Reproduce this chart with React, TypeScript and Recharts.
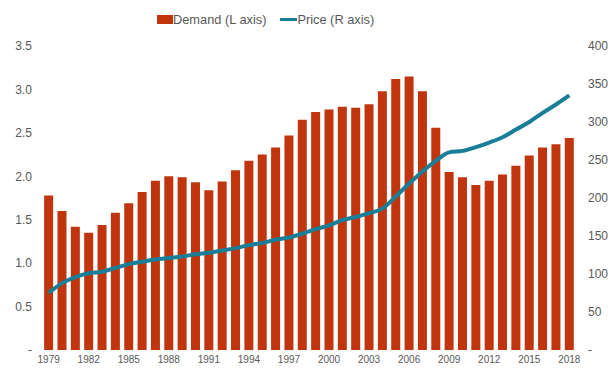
import { Bar, ComposedChart, Line, XAxis, YAxis } from "recharts";

const years = Array.from({ length: 40 }, (_, i) => String(1979 + i));

const demand = [
  1.78, 1.6, 1.42, 1.35, 1.44, 1.58, 1.69, 1.82, 1.95, 2.0,
  1.99, 1.93, 1.84, 1.94, 2.07, 2.18, 2.25, 2.33, 2.47, 2.65,
  2.74, 2.77, 2.8, 2.79, 2.83, 2.98, 3.12, 3.15, 2.98, 2.56,
  2.05, 1.99, 1.9, 1.95, 2.02, 2.12, 2.24, 2.33, 2.37, 2.44,
];

const price = [
  75, 88, 96, 101, 103, 108, 113, 116, 119, 121,
  123, 126, 128, 131, 134, 138, 141, 145, 148, 153,
  159, 164, 171, 175, 180, 186, 202, 219, 235, 249,
  260, 262, 267, 273, 280, 290, 300, 312, 323, 335,
];

const leftTicks = [0, 0.5, 1, 1.5, 2, 2.5, 3, 3.5];
const rightTicks = [0, 50, 100, 150, 200, 250, 300, 350, 400];

const rows = years.map((year, i) => ({ year, demand: demand[i], price: price[i] }));

const RED = "#C1350E";
const BLUE = "#197E98";
const TEXT = "#595959";
const FONT = "'Liberation Sans', Arial, sans-serif";

export default function App() {
  return (
    <div style={{ position: "absolute", left: 0, top: 0, width: 615, height: 376, background: "#fff", fontFamily: FONT }}>
      {/* legend drawn as html so it does not push the plot down */}
      <div
        style={{
          position: "absolute",
          top: 12,
          left: 157,
          display: "flex",
          alignItems: "center",
          fontSize: 12.8,
          color: TEXT,
          whiteSpace: "nowrap",
        }}
      >
        <span style={{ display: "inline-block", width: 16, height: 9, background: RED }} />
        <span>Demand (L axis)</span>
        <span style={{ display: "inline-block", width: 17, height: 3, background: BLUE, marginLeft: 14 }} />
        <span>Price (R axis)</span>
      </div>
      <ComposedChart
        width={615}
        height={376}
        data={rows}
        margin={{ top: 46, right: 0, bottom: 0, left: 0 }}
        barCategoryGap="16%"
      >
        <XAxis
          dataKey="year"
          interval={2}
          axisLine={false}
          tickLine={false}
          tickSize={0}
          tickMargin={6}
          height={26}
          tick={{ fill: TEXT, fontSize: 10, fontFamily: FONT }}
        />
        <YAxis
          yAxisId="left"
          domain={[0, 3.5]}
          ticks={leftTicks}
          axisLine={false}
          tickLine={false}
          tickSize={0}
          tickMargin={10}
          width={42}
          tick={{ fill: TEXT, fontSize: 12, fontFamily: FONT }}
          tickFormatter={(v: number) => (v === 0 ? "-  " : v.toFixed(1))}
        />
        <YAxis
          yAxisId="right"
          orientation="right"
          domain={[0, 400]}
          ticks={rightTicks}
          axisLine={false}
          tickLine={false}
          tickSize={0}
          tickMargin={12}
          width={39}
          tick={{ fill: TEXT, fontSize: 12, fontFamily: FONT }}
          tickFormatter={(v: number) => (v === 0 ? "-" : String(v))}
        />
        <Bar yAxisId="left" dataKey="demand" fill={RED} isAnimationActive={false} />
        <Line
          yAxisId="right"
          dataKey="price"
          type="monotone"
          stroke={BLUE}
          strokeWidth={4}
          dot={false}
          isAnimationActive={false}
        />
      </ComposedChart>
    </div>
  );
}
